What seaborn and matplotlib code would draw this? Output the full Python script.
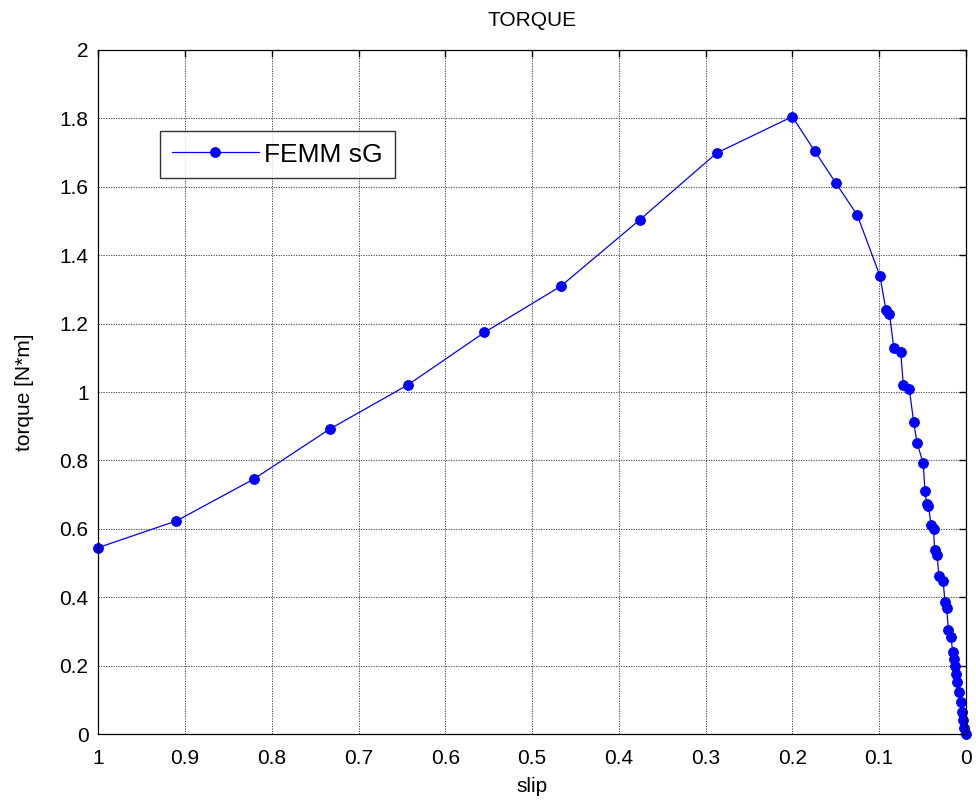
import pandas as pd
import matplotlib
matplotlib.use("Agg")
import matplotlib.pyplot as plt
import seaborn as sns
from matplotlib.ticker import FuncFormatter

# Data (slip from 1 down to 0)
slip = [1.0, 0.910, 0.821, 0.733, 0.643, 0.555, 0.467, 0.376, 0.287, 0.200,
        0.174, 0.150, 0.125, 0.099, 0.092, 0.088, 0.083, 0.075, 0.072, 0.065,
        0.060, 0.056, 0.049, 0.047, 0.045, 0.043, 0.040, 0.037, 0.036, 0.033,
        0.031, 0.026, 0.024, 0.022, 0.020, 0.017, 0.015, 0.013, 0.012, 0.011,
        0.010, 0.008, 0.006, 0.0045, 0.003, 0.0015, 0.0]
torque = [0.545, 0.623, 0.745, 0.892, 1.021, 1.174, 1.309, 1.503, 1.699, 1.805,
          1.704, 1.612, 1.517, 1.340, 1.240, 1.229, 1.130, 1.118, 1.021, 1.008,
          0.911, 0.850, 0.791, 0.710, 0.672, 0.667, 0.612, 0.600, 0.539, 0.524,
          0.463, 0.446, 0.387, 0.369, 0.304, 0.283, 0.239, 0.220, 0.200, 0.176,
          0.152, 0.122, 0.093, 0.065, 0.041, 0.017, 0.0]
series_name = "FEMM sG"

x_ticks = [1, 0.9, 0.8, 0.7, 0.6, 0.5, 0.4, 0.3, 0.2, 0.1, 0]
y_ticks = [0, 0.2, 0.4, 0.6, 0.8, 1, 1.2, 1.4, 1.6, 1.8, 2]

df = pd.DataFrame({"slip": slip, "torque": torque, "series": series_name})

sns.set_style("white")
plt.rcParams["font.family"] = ["Liberation Sans", "DejaVu Sans"]
plt.rcParams["text.color"] = "black"
plt.rcParams["axes.labelcolor"] = "black"

fig = plt.figure(figsize=(9.76, 8.09), dpi=100)
ax = fig.add_axes([0.1007, 0.0927, 0.8888, 0.8455])

sns.lineplot(data=df, x="slip", y="torque", hue="series", palette=["#0000ff"],
             sort=False, estimator=None, marker="o", markersize=7,
             markeredgecolor="#0000ff", linewidth=0.9, ax=ax)
for ln in ax.lines:
    ln.set_clip_on(False)

ax.set_xlim(1, 0)
ax.set_ylim(0, 2)
ax.set_xticks(x_ticks)
ax.set_yticks(y_ticks)
fmt = FuncFormatter(lambda v, p: f"{v:g}")
ax.xaxis.set_major_formatter(fmt)
ax.yaxis.set_major_formatter(fmt)

ax.grid(True, color="#333333", linestyle=(0, (1.5, 1.5)), linewidth=0.6)
ax.tick_params(direction="in", length=5, width=1, colors="black",
               labelsize=15, top=True, right=True)
ax.tick_params(axis="x", pad=11)
ax.tick_params(axis="y", pad=7)
for s in ax.spines.values():
    s.set_color("black")
    s.set_linewidth(0.9)

ax.set_title("TORQUE", fontsize=15, pad=17)
ax.set_xlabel("slip", fontsize=15, labelpad=6)
ax.set_ylabel("torque [N*m]", fontsize=15, labelpad=18)

leg = ax.legend(loc="upper left", bbox_to_anchor=(0.071, 0.882), fontsize=19,
                frameon=True, fancybox=False, edgecolor="black",
                handlelength=3.3, handletextpad=0.2, borderpad=0.45,
                borderaxespad=0)
leg.get_frame().set_linewidth(1.0)

fig.savefig("out.png", dpi=100)
